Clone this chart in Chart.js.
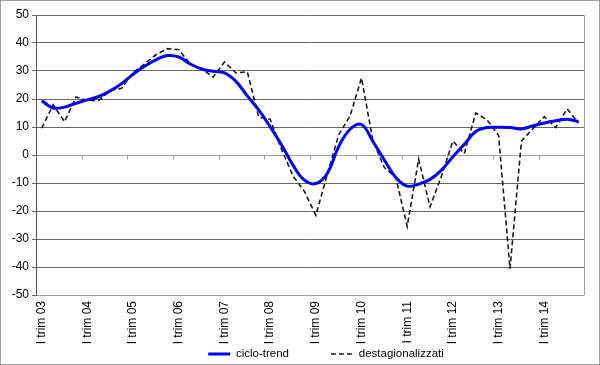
<!DOCTYPE html>
<html>
<head>
<meta charset="utf-8">
<script src="https://cdn.jsdelivr.net/npm/chart.js@4.4.1/dist/chart.umd.min.js"></script>
<style>
  body { margin: 0; background: #fff; }
  #box { width: 598px; height: 363px; border: 1px solid #a0a0a0; }
</style>
</head>
<body>
<div id="box"><canvas id="chart" width="598" height="363"></canvas></div>
<script>
// quarters I trim 03 .. IV trim 14
var years = ["03","04","05","06","07","08","09","10","11","12","13","14"];
var quarters = ["I","II","III","IV"];
var categories = [];
years.forEach(function (y) {
  quarters.forEach(function (q) { categories.push(q + " trim " + y); });
});

var cicloTrend = [19.4, 16.8, 17.1, 18.5, 19.7, 20.9, 22.9, 25.5, 28.8, 31.7, 34.0, 35.5,
                  35.0, 32.5, 30.7, 29.9, 29.3, 26.3, 21.1, 16.1, 10.1, 3.6, -3.6, -9.0,
                  -10.2, -6.6, 3.0, 9.2, 10.9, 4.8, -1.8, -8.0, -11.1, -10.4, -8.7, -5.4,
                  -0.6, 3.8, 8.4, 9.8, 9.9, 9.8, 9.3, 10.4, 11.4, 12.2, 12.8, 11.9];
var destag = [9.6, 17.9, 11.9, 20.7, 19.5, 19.5, 23.0, 23.8, 29.5, 32.5, 35.8, 38.0,
              37.6, 32.5, 30.8, 27.8, 33.2, 29.3, 29.7, 13.5, 12.8, 2.0, -7.5, -13.0,
              -21.5, -7.0, 7.2, 14.0, 27.5, 5.0, -4.5, -8.0, -25.5, -1.5, -18.5, -7.5,
              5.0, 0.5, 15.0, 12.5, 7.0, -40.6, 5.0, 9.4, 13.7, 9.8, 16.5, 11.4];
var yTicks = [-50, -40, -30, -20, -10, 0, 10, 20, 30, 40, 50];

Chart.defaults.font.family = "'Liberation Sans', Arial, sans-serif";
Chart.defaults.font.size = 12;
Chart.defaults.color = "#000";

// right border of plot + small ticks on the zero axis, legend placement
var frame = {
  id: "frame",
  beforeDatasetsDraw: function (chart) {
    var ctx = chart.ctx, a = chart.chartArea;
    var x = chart.scales.x, y = chart.scales.y;
    ctx.save();
    ctx.strokeStyle = "#a0a0a0";
    ctx.lineWidth = 1;
    ctx.beginPath();
    var rx = Math.round(a.right) + 0.5;
    ctx.moveTo(rx, a.top);
    ctx.lineTo(rx, a.bottom);
    var y0 = Math.round(y.getPixelForValue(0)) + 0.5;
    for (var k = 3.5; k < categories.length - 1; k += 4) {
      var px = Math.round(x.getPixelForValue(k)) + 0.5;
      ctx.moveTo(px, y0);
      ctx.lineTo(px, y0 + 4);
    }
    ctx.stroke();
    ctx.restore();
  },
  afterLayout: function (chart) {
    var lg = chart.legend;
    var shift = 325 - (lg.left + lg.right) / 2;
    lg.left += shift;
    lg.right += shift;
    lg.top = 353 - lg.options.labels.padding - lg.options.labels.font.size / 2;
    lg.bottom = chart.height;
    lg.height = lg.bottom - lg.top;
  }
};

new Chart(document.getElementById("chart"), {
  type: "line",
  data: {
    labels: categories,
    datasets: [{
      label: "ciclo-trend",
      data: cicloTrend,
      borderColor: "#0000ff",
      backgroundColor: "#0000ff",
      borderWidth: 3,
      tension: 0.4,
      pointRadius: 0,
      fill: false
    }, {
      label: "destagionalizzati",
      data: destag,
      borderColor: "#1a1a1a",
      backgroundColor: "#1a1a1a",
      borderWidth: 1.6,
      borderDash: [5, 3],
      tension: 0,
      pointRadius: 0,
      fill: false
    }]
  },
  options: {
    responsive: false,
    animation: false,
    devicePixelRatio: 1,
    layout: { padding: { top: 14, right: 5, left: 0, bottom: 0 } },
    plugins: {
      tooltip: { enabled: false },
      legend: {
        position: "bottom",
        maxHeight: 1,
        labels: {
          usePointStyle: true,
          pointStyle: "line",
          pointStyleWidth: 22,
          boxHeight: 11,
          padding: 42,
          font: { size: 11.5 },
          color: "#000",
          generateLabels: function (chart) {
            var items = Chart.defaults.plugins.legend.labels.generateLabels(chart);
            items.forEach(function (it) {
              var ds = chart.data.datasets[it.datasetIndex];
              it.lineDash = ds.borderDash || [];
              it.lineWidth = ds.borderWidth;
            });
            return items;
          }
        }
      }
    },
    scales: {
      x: {
        offset: true,
        grid: { display: false, drawTicks: false },
        border: { display: false },
        ticks: {
          autoSkip: false,
          maxRotation: 90,
          minRotation: 90,
          padding: 6,
          callback: function (v, i) { return i % 4 === 0 ? categories[i] : ""; }
        },
        afterFit: function (s) { s.height = 68; }
      },
      y: {
        min: yTicks[0],
        max: yTicks[yTicks.length - 1],
        ticks: { stepSize: 10, padding: 3 },
        grid: {
          color: function (c) {
            var v = c.tick && c.tick.value;
            return (v === 0 || v === -50) ? "#a0a0a0" : "#666666";
          },
          tickColor: "#666666",
          tickLength: 4
        },
        border: { color: "#555555" },
        afterFit: function (s) { s.width = 35; }
      }
    }
  },
  plugins: [frame]
});
</script>
</body>
</html>
